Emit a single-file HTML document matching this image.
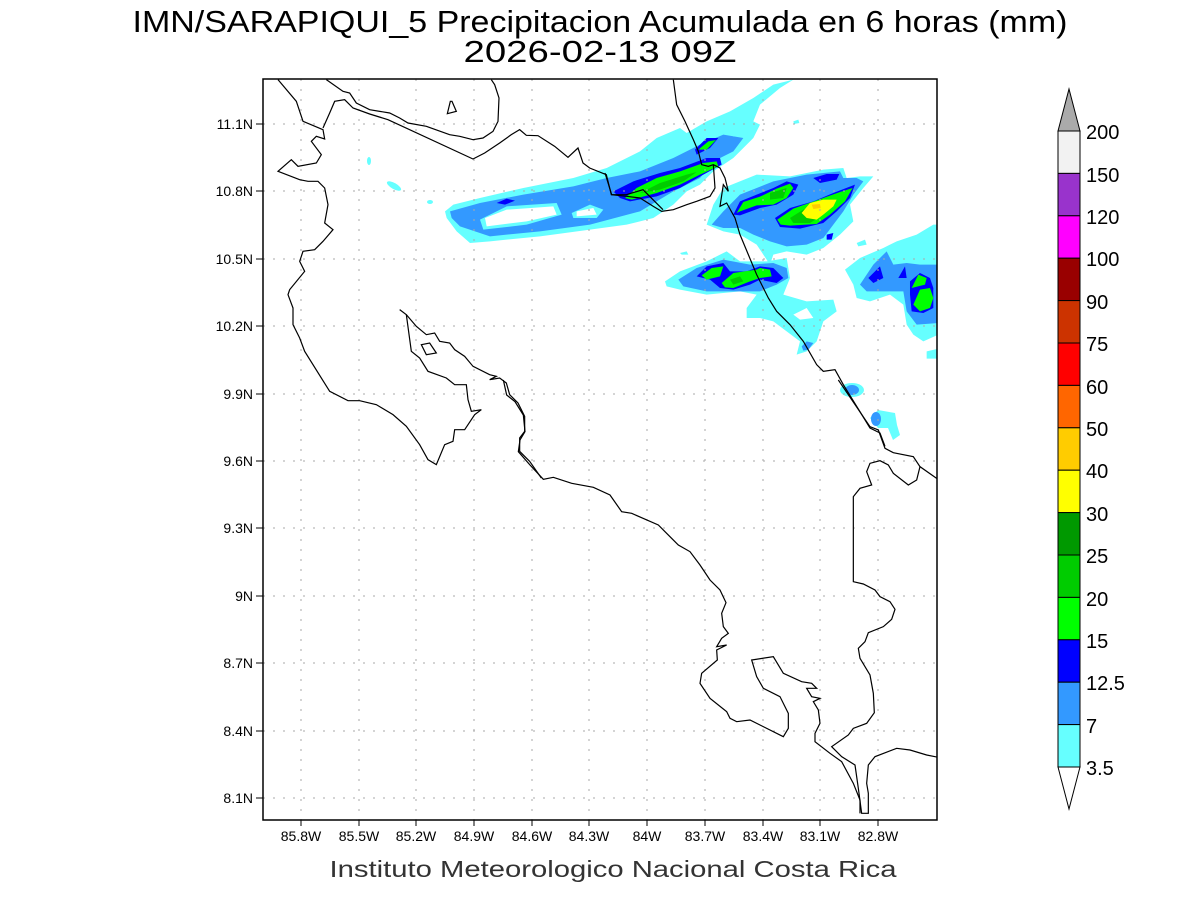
<!DOCTYPE html>
<html><head><meta charset="utf-8"><style>
html,body{margin:0;padding:0;background:#fff;}
svg{display:block;font-family:"Liberation Sans",sans-serif;}
</style></head><body>
<svg width="1200" height="900" viewBox="0 0 1200 900" xmlns="http://www.w3.org/2000/svg">
<rect width="1200" height="900" fill="#fff"/>
<text x="600" y="32" font-size="31" text-anchor="middle" textLength="935" lengthAdjust="spacingAndGlyphs" fill="#000">IMN/SARAPIQUI_5 Precipitacion Acumulada en 6 horas (mm)</text>
<text x="600" y="62" font-size="31" text-anchor="middle" textLength="273" lengthAdjust="spacingAndGlyphs" fill="#000">2026-02-13 09Z</text>
<defs><clipPath id="fr"><rect x="263" y="79" width="674" height="741"/></clipPath></defs>
<g clip-path="url(#fr)">
<!-- precipitation, zoom2 coords -->
<g transform="translate(440,78) scale(0.33333)">
<path fill="#66ffff" d="M15,400 L40,380 120,360 250,330 400,300 500,270 600,220 650,180 720,150 740,165 800,130 870,100 940,60 1000,20 1060,5 1020,30 960,80 940,130 960,140 940,180 880,240 820,280 780,320 740,340 700,380 640,420 560,440 450,455 300,475 150,490 90,495 50,460 20,420Z"/>
<path fill="#3399ff" d="M30,400 L120,375 250,350 400,325 500,300 600,280 700,240 780,200 850,170 910,180 880,220 820,250 780,300 700,340 600,400 450,440 300,460 150,475 60,445 35,420Z"/>
<path fill="#66ffff" d="M120,425 L200,385 350,375 365,410 260,440 130,455Z M395,405 L450,380 490,395 470,420 400,420Z M590,250 L640,225 650,245 600,260Z M870,150 L930,140 920,170 880,175Z"/>
<path fill="#fff" d="M135,420 L200,395 340,385 350,410 260,430 140,445Z M410,400 L460,390 470,410 410,415Z"/>
<path fill="#0000ff" d="M520,340 L580,310 660,285 720,270 800,240 840,240 845,260 790,290 720,330 650,355 570,370 540,360Z M765,215 L800,180 835,180 810,210 770,230Z M170,375 L200,362 225,368 195,380Z"/>
<path fill="#00ff00" d="M555,360 L590,330 650,300 720,280 790,255 830,250 835,265 780,290 720,320 650,345 575,365Z M775,215 L805,190 828,186 800,215Z"/>
<path fill="#00cc00" d="M600,345 L660,315 740,290 770,282 730,310 660,335Z"/>
<!-- band2 -->
<path fill="#66ffff" d="M800,440 L820,380 850,330 950,290 1050,295 1150,275 1210,270 1220,300 1260,295 1300,295 1270,330 1230,380 1240,430 1200,470 1150,510 1100,530 1040,520 1000,530 990,560 950,500 900,470 850,460Z"/>
<path fill="#3399ff" d="M815,440 L850,400 900,350 1000,310 1100,290 1200,280 1210,300 1250,300 1270,310 1240,350 1210,400 1180,440 1150,480 1100,500 1040,505 990,490 940,470 900,450 850,450Z"/>
<path fill="#0000ff" d="M1005,420 L1050,390 1120,370 1180,345 1245,320 1230,360 1190,400 1150,435 1080,452 1020,447Z M880,410 L900,370 950,350 1000,330 1040,310 1075,320 1060,350 1010,380 960,390 900,412Z M1120,300 L1160,288 1198,288 1190,305 1140,315Z M1160,470 L1180,465 1175,485 1160,485Z"/>
<path fill="#00ff00" d="M1012,425 L1060,392 1130,367 1200,342 1238,330 1215,370 1170,410 1130,438 1050,443 1022,440Z M890,405 L910,372 960,356 1010,332 1050,317 1060,330 1040,360 1000,380 950,382 900,400Z"/>
<path fill="#00cc00" d="M1050,420 L1090,395 1140,377 1150,410 1110,435 1060,435Z M990,345 L1040,330 1030,360 990,365Z"/>
<path fill="#ffff00" d="M1085,405 L1110,375 1150,365 1190,365 1180,385 1150,410 1130,425 1100,420Z"/>
<path fill="#ffcc00" d="M1115,380 L1140,378 1142,390 1120,393Z"/>
<!-- band3 -->
<path fill="#66ffff" d="M675,610 L720,580 800,550 860,520 900,550 980,550 1040,540 1050,600 1030,650 1100,670 1180,665 1190,700 1150,730 1130,790 1100,820 1070,830 1080,790 1040,760 1000,730 960,720 920,720 920,690 950,650 900,640 800,650 720,635 680,625Z M720,525 L740,520 745,530 725,530Z M1250,495 L1275,485 1280,500 1255,505Z M1060,130 L1075,125 1078,135 1062,138Z"/>
<path fill="#fff" d="M1060,710 L1100,690 1120,720 1080,725Z"/>
<path fill="#3399ff" d="M715,605 L770,570 850,545 930,560 1000,555 1040,570 1045,600 1010,620 960,640 900,640 800,640 730,625Z M1085,805 L1100,790 1120,795 1105,815 1090,818Z"/>
<path fill="#0000ff" d="M770,595 L800,565 850,555 870,580 920,580 960,565 1000,570 1030,600 1010,615 960,605 930,620 880,635 840,630 810,605Z"/>
<path fill="#00ff00" d="M785,592 L815,570 850,565 840,595 800,605Z M845,615 L880,585 950,575 960,570 990,575 995,595 960,600 930,610 880,630 855,628Z"/>
<path fill="#00cc00" d="M870,605 L900,595 910,610 880,620Z"/>
<!-- band4 -->
<path fill="#66ffff" d="M1215,575 L1260,540 1330,510 1370,490 1430,470 1480,440 1495,440 1495,770 1450,790 1420,770 1400,740 1390,680 1350,650 1290,670 1250,660 1240,620Z M1460,820 L1495,812 1495,842 1460,842Z"/>
<path fill="#3399ff" d="M1260,620 L1300,560 1340,520 1360,560 1400,555 1440,560 1495,560 1495,735 1430,740 1400,700 1390,640 1350,640 1280,640Z"/>
<path fill="#0000ff" d="M1285,600 L1320,565 1330,600 1300,615Z M1375,600 L1395,565 1400,600Z M1410,610 L1440,585 1470,600 1480,630 1480,690 1450,705 1415,700 1410,650Z"/>
<path fill="#00ff00" d="M1415,630 L1435,590 1460,600 1455,620Z M1420,680 L1440,635 1470,630 1480,660 1470,690 1440,700Z"/>
</g>
<ellipse cx="369" cy="161" rx="2" ry="4" fill="#66ffff"/>
<ellipse cx="394" cy="186" rx="8" ry="3" fill="#66ffff" transform="rotate(30 394 186)"/>
<ellipse cx="430" cy="202" rx="3" ry="2" fill="#66ffff"/>
<ellipse cx="852" cy="390" rx="12" ry="7" fill="#66ffff"/>
<ellipse cx="852" cy="390" rx="7" ry="5" fill="#3399ff"/>
<path fill="#66ffff" d="M870,418 L878,410 895,413 897,425 900,435 893,440 888,428 878,428Z"/>
<ellipse cx="876" cy="419" rx="5" ry="7" fill="#3399ff"/>
<!-- grid -->
<g stroke="#aaa" stroke-width="1" stroke-dasharray="2,8">
<line x1="301" y1="79" x2="301" y2="820"/><line x1="359" y1="79" x2="359" y2="820"/><line x1="416" y1="79" x2="416" y2="820"/><line x1="474" y1="79" x2="474" y2="820"/><line x1="532" y1="79" x2="532" y2="820"/><line x1="589" y1="79" x2="589" y2="820"/><line x1="647" y1="79" x2="647" y2="820"/><line x1="705" y1="79" x2="705" y2="820"/><line x1="763" y1="79" x2="763" y2="820"/><line x1="820" y1="79" x2="820" y2="820"/><line x1="878" y1="79" x2="878" y2="820"/>
<line x1="263" y1="124" x2="937" y2="124"/><line x1="263" y1="191" x2="937" y2="191"/><line x1="263" y1="259" x2="937" y2="259"/><line x1="263" y1="326" x2="937" y2="326"/><line x1="263" y1="394" x2="937" y2="394"/><line x1="263" y1="461" x2="937" y2="461"/><line x1="263" y1="528" x2="937" y2="528"/><line x1="263" y1="596" x2="937" y2="596"/><line x1="263" y1="663" x2="937" y2="663"/><line x1="263" y1="731" x2="937" y2="731"/><line x1="263" y1="798" x2="937" y2="798"/>
</g>
<!-- coastlines -->
<g fill="none" stroke="#000" stroke-width="1.2" vector-effect="non-scaling-stroke">
<g transform="translate(263,78) scale(0.33333)">
<polyline vector-effect="non-scaling-stroke" points="45,5 100,70 120,130 180,155 185,183 160,175 145,190 175,230 160,255 105,265 85,245 45,280 110,305 135,310 165,310 185,330 195,380 185,435 210,455 180,490 155,515 120,520 110,550 125,580 80,635 75,650 90,690 90,740 110,780 125,820 200,940 255,968 290,968 340,980 390,1010 430,1045 470,1100 495,1145 520,1160 545,1100 570,1090 575,1055 605,1055 635,1010 655,995 625,1000 615,965 610,920 575,920 550,900 495,880 470,840 445,820 430,710 410,695"/>
<polyline vector-effect="non-scaling-stroke" points="180,150 200,105 215,70 245,65 270,90 320,108 375,125 630,243 665,225 710,195 745,170 770,155 790,172 825,173 875,205 915,238 945,210 960,255 980,270 1030,290 1045,350 1090,350 1140,335 1200,395"/>
<polyline vector-effect="non-scaling-stroke" points="190,5 240,40 260,45 280,75 320,95 380,105 410,120 435,135 490,145 560,170 590,175 630,185 660,180 690,160 705,130 708,60 695,20 685,5"/>
<polygon vector-effect="non-scaling-stroke" points="562,70 567,70 580,100 553,107"/>
<polygon vector-effect="non-scaling-stroke" points="475,800 500,795 520,825 490,830"/>
<polyline vector-effect="non-scaling-stroke" points="430,710 460,745 490,770 515,765 530,790 560,795 575,815 605,835 630,865 680,890 700,895 680,905 710,900 730,915 740,950 765,975 785,1015 785,1060 770,1080 770,1120 800,1150 835,1200"/>
</g>
<g transform="translate(440,78) scale(0.33333)">
<polyline vector-effect="non-scaling-stroke" points="700,5 710,80 735,130 760,185 775,220 785,260 805,265 820,260 840,270 855,300 865,340 850,320 840,385 860,375 885,420 900,470 925,530 950,590 985,660 1010,700 1050,740 1090,790 1130,860 1150,880 1185,875 1210,920 1250,985 1290,1050 1320,1065 1335,1105"/>
<polyline vector-effect="non-scaling-stroke" points="495,285 515,350 560,355 600,360 640,385 665,400 700,395 740,380 770,370 810,355 825,330 820,260"/>
</g>
<g transform="translate(480,380) scale(0.33333)">
<polyline vector-effect="non-scaling-stroke" points="1075,0 1170,140 1195,150 1215,205 1240,218 1300,230 1320,260 1370,295"/>
<polyline vector-effect="non-scaling-stroke" points="1320,260 1310,300 1285,315 1240,280 1225,255 1200,242 1170,250 1160,275 1175,315 1140,325 1120,350 1120,605 1150,612 1185,630 1200,650 1230,665 1245,688 1235,718 1210,740 1165,758 1155,785 1135,805 1140,835 1170,885 1180,940 1183,998 1160,1030 1120,1045 1105,1065 1055,1100 1085,1130 1125,1155 1135,1225 1145,1300 1165,1300 1165,1240 1160,1210 1165,1155 1185,1130 1250,1105 1290,1110 1340,1125 1375,1132"/>
<polyline vector-effect="non-scaling-stroke" points="70,0 80,45 105,65 130,105 135,155 120,180 115,215 150,255 190,298 220,292 275,310 340,322 390,345 425,395 455,400 535,435 570,470 595,495 630,515 660,555 690,600 720,630 738,668 725,700 730,740 745,760 725,775 710,800 740,795 710,810 712,840 665,880 660,910 690,955 740,995 750,1015 770,1025 810,1020 910,1070 925,1045 925,1000 900,950 850,925 830,890 815,840 880,830 910,880 965,905 995,910 1010,925 980,925 995,950 1020,955 1000,965 1015,990 1020,1030 1005,1060 1005,1085 1050,1120 1085,1145 1120,1210 1140,1260 1140,1300"/>
</g>
</g>
</g>
<rect x="263" y="79" width="674" height="741" fill="none" stroke="#000" stroke-width="1.5"/>
<!-- ticks -->
<g stroke="#000" stroke-width="1">
<line x1="301" y1="820" x2="301" y2="826"/><line x1="359" y1="820" x2="359" y2="826"/><line x1="416" y1="820" x2="416" y2="826"/><line x1="474" y1="820" x2="474" y2="826"/><line x1="532" y1="820" x2="532" y2="826"/><line x1="589" y1="820" x2="589" y2="826"/><line x1="647" y1="820" x2="647" y2="826"/><line x1="705" y1="820" x2="705" y2="826"/><line x1="763" y1="820" x2="763" y2="826"/><line x1="820" y1="820" x2="820" y2="826"/><line x1="878" y1="820" x2="878" y2="826"/>
<line x1="256" y1="124" x2="263" y2="124"/><line x1="256" y1="191" x2="263" y2="191"/><line x1="256" y1="259" x2="263" y2="259"/><line x1="256" y1="326" x2="263" y2="326"/><line x1="256" y1="394" x2="263" y2="394"/><line x1="256" y1="461" x2="263" y2="461"/><line x1="256" y1="528" x2="263" y2="528"/><line x1="256" y1="596" x2="263" y2="596"/><line x1="256" y1="663" x2="263" y2="663"/><line x1="256" y1="731" x2="263" y2="731"/><line x1="256" y1="798" x2="263" y2="798"/>
</g>
<g font-size="14" fill="#000" text-anchor="middle">
<text x="301" y="841">85.8W</text><text x="359" y="841">85.5W</text><text x="416" y="841">85.2W</text><text x="474" y="841">84.9W</text><text x="532" y="841">84.6W</text><text x="589" y="841">84.3W</text><text x="647" y="841">84W</text><text x="705" y="841">83.7W</text><text x="763" y="841">83.4W</text><text x="820" y="841">83.1W</text><text x="878" y="841">82.8W</text>
</g>
<g font-size="14" fill="#000" text-anchor="end">
<text x="253" y="129">11.1N</text><text x="253" y="196">10.8N</text><text x="253" y="264">10.5N</text><text x="253" y="331">10.2N</text><text x="253" y="399">9.9N</text><text x="253" y="466">9.6N</text><text x="253" y="533">9.3N</text><text x="253" y="601">9N</text><text x="253" y="668">8.7N</text><text x="253" y="736">8.4N</text><text x="253" y="803">8.1N</text>
</g>
<text x="613" y="877" font-size="23" text-anchor="middle" textLength="567" lengthAdjust="spacingAndGlyphs" fill="#333">Instituto Meteorologico Nacional Costa Rica</text>
<!-- colorbar -->
<g stroke="#000" stroke-width="1">
<polygon points="1058,131 1080,131 1069,89" fill="#aaaaaa"/>
<rect x="1058" y="131" width="22" height="42.4" fill="#f2f2f2"/>
<rect x="1058" y="173.4" width="22" height="42.4" fill="#9933cc"/>
<rect x="1058" y="215.8" width="22" height="42.4" fill="#ff00ff"/>
<rect x="1058" y="258.2" width="22" height="42.4" fill="#990000"/>
<rect x="1058" y="300.6" width="22" height="42.4" fill="#cc3300"/>
<rect x="1058" y="343" width="22" height="42.4" fill="#ff0000"/>
<rect x="1058" y="385.4" width="22" height="42.4" fill="#ff6600"/>
<rect x="1058" y="427.8" width="22" height="42.4" fill="#ffcc00"/>
<rect x="1058" y="470.2" width="22" height="42.4" fill="#ffff00"/>
<rect x="1058" y="512.6" width="22" height="42.4" fill="#009900"/>
<rect x="1058" y="555" width="22" height="42.4" fill="#00cc00"/>
<rect x="1058" y="597.4" width="22" height="42.4" fill="#00ff00"/>
<rect x="1058" y="639.8" width="22" height="42.4" fill="#0000ff"/>
<rect x="1058" y="682.2" width="22" height="42.4" fill="#3399ff"/>
<rect x="1058" y="724.6" width="22" height="42.4" fill="#66ffff"/>
<polygon points="1058,767 1080,767 1069,809" fill="#fff"/>
</g>
<g font-size="20" fill="#000">
<text x="1086" y="139">200</text><text x="1086" y="182">150</text><text x="1086" y="224">120</text><text x="1086" y="266">100</text><text x="1086" y="309">90</text><text x="1086" y="351">75</text><text x="1086" y="394">60</text><text x="1086" y="436">50</text><text x="1086" y="478">40</text><text x="1086" y="521">30</text><text x="1086" y="563">25</text><text x="1086" y="606">20</text><text x="1086" y="648">15</text><text x="1086" y="690">12.5</text><text x="1086" y="733">7</text><text x="1086" y="775">3.5</text>
</g>
</svg>
</body></html>
